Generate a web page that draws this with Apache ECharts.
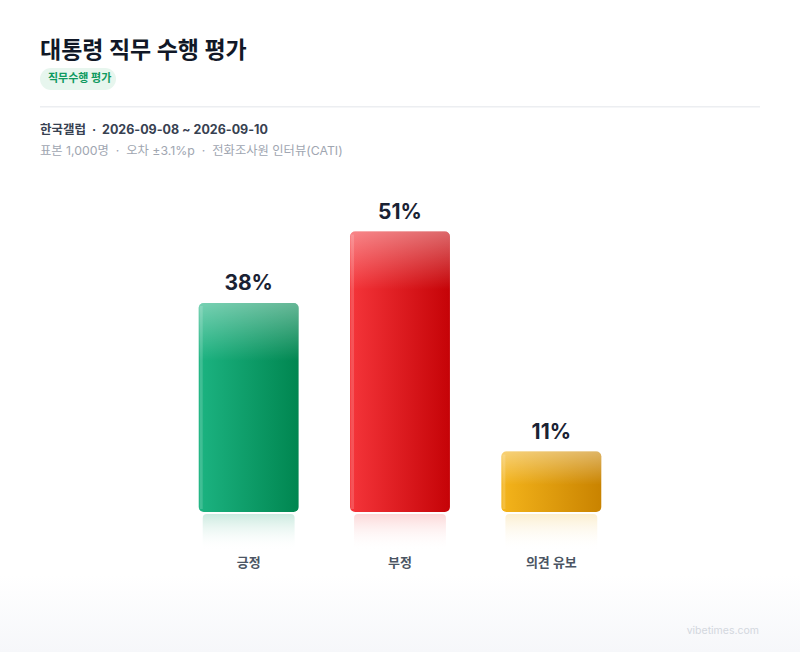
<!DOCTYPE html>
<html>
<head>
<meta charset="utf-8">
<script src="https://cdn.jsdelivr.net/npm/echarts@6/dist/echarts.min.js"></script>
<style>
html,body{margin:0;padding:0;background:#fff;}
#chart{width:800px;height:652px;}
</style>
</head>
<body>
<div id="chart"></div>
<script>
const categories = ['긍정', '부정', '의견 유보'];
const values = [38, 51, 11];
const valueLabels = ['38%', '51%', '11%'];

const palette = [
  { left: '#1cb381', right: '#008650', refl: 'rgba(16,160,110,0.22)' },
  { left: '#f5353a', right: '#c50307', refl: 'rgba(240,60,60,0.2)' },
  { left: '#f4b41b', right: '#c98300', refl: 'rgba(240,180,40,0.22)' }
];

const FONT = 'Inter, "Noto Sans CJK KR", "Noto Sans", sans-serif';

const chart = echarts.init(document.getElementById('chart'), null, { renderer: 'svg' });

const barData = values.map((v, i) => ({
  value: v,
  itemStyle: {
    color: new echarts.graphic.LinearGradient(0, 0, 1, 0, [
      { offset: 0, color: palette[i].left },
      { offset: 1, color: palette[i].right }
    ])
  },
  label: { formatter: valueLabels[i] }
}));

function renderOverlay(params, api) {
  const idx = api.value(0);
  const top = api.coord([idx, api.value(1)]);
  const base = api.coord([idx, 0]);
  const band = api.size([1, 0])[0];
  const w = band * 0.66;
  const x = top[0] - w / 2;
  const h = base[1] - top[1];
  const gh = Math.min(58, h * 0.55);
  return {
    type: 'group',
    children: [
      {
        type: 'rect',
        shape: { x: x, y: top[1], width: w, height: gh, r: [5, 5, 0, 0] },
        style: {
          fill: new echarts.graphic.LinearGradient(0, 0, 0, 1, [
            { offset: 0, color: 'rgba(255,255,255,0.4)' },
            { offset: 1, color: 'rgba(255,255,255,0)' }
          ])
        },
        silent: true
      },
      {
        type: 'rect',
        shape: { x: x + 1, y: top[1] + 3, width: 3, height: h - 6 },
        style: { fill: 'rgba(255,255,255,0.16)' },
        silent: true
      },
      {
        type: 'rect',
        shape: { x: x + 4, y: base[1] + 2, width: w - 8, height: 37, r: 4 },
        style: {
          fill: new echarts.graphic.LinearGradient(0, 0, 0, 1, [
            { offset: 0, color: palette[idx].refl },
            { offset: 1, color: 'rgba(255,255,255,0)' }
          ])
        },
        silent: true
      }
    ]
  };
}

const option = {
  backgroundColor: '#ffffff',
  animation: false,
  grid: { left: 173, right: 173, top: 182, bottom: 140 },
  xAxis: {
    type: 'category',
    data: categories,
    axisLine: { show: false },
    axisTick: { show: false },
    axisLabel: {
      margin: 43,
      fontSize: 13,
      fontWeight: 'bold',
      color: '#4b5563',
      fontFamily: FONT
    }
  },
  yAxis: {
    type: 'value',
    min: 0,
    max: 60,
    show: false,
    splitLine: { show: false }
  },
  graphic: [
    {
      type: 'rect', left: 0, top: 575, silent: true, z: -10,
      shape: { width: 800, height: 77 },
      style: {
        fill: new echarts.graphic.LinearGradient(0, 0, 0, 1, [
          { offset: 0, color: '#ffffff' },
          { offset: 1, color: '#f6f7fa' }
        ])
      }
    },
    {
      type: 'text', left: 40, top: 38,
      style: { text: '대통령 직무 수행 평가', font: 'bold 23px ' + FONT, fill: '#111827' }
    },
    {
      type: 'rect', left: 40, top: 68,
      shape: { width: 76, height: 22, r: 11 },
      style: { fill: '#e7f6ee' }
    },
    {
      type: 'text', left: 48, top: 72,
      style: { text: '직무수행 평가', font: 'bold 11px ' + FONT, fill: '#0e9a5f' }
    },
    {
      type: 'rect', left: 40, top: 106,
      shape: { width: 720, height: 1.5 },
      style: { fill: '#eceef1' }
    },
    {
      type: 'text', left: 40, top: 123,
      style: { text: '한국갤럽  ·  2026-09-08 ~ 2026-09-10', font: 'bold 12.5px ' + FONT, fill: '#374151' }
    },
    {
      type: 'text', left: 40, top: 144,
      style: { text: '표본 1,000명  ·  오차 ±3.1%p  ·  전화조사원 인터뷰(CATI)', font: '12.3px ' + FONT, fill: '#a0a6b1' }
    },
    {
      type: 'text', right: 41, top: 625,
      style: { text: 'vibetimes.com', font: '10.5px ' + FONT, fill: '#d3d7de' }
    }
  ],
  series: [
    {
      type: 'bar',
      data: barData,
      barWidth: '66%',
      itemStyle: { borderRadius: 5 },
      label: {
        show: true,
        position: 'top',
        distance: 10,
        fontSize: 21,
        fontWeight: 'bold',
        color: '#1a2233',
        fontFamily: FONT
      },
      z: 2
    },
    {
      type: 'custom',
      renderItem: renderOverlay,
      data: values.map((v, i) => [i, v]),
      z: 3,
      silent: true
    }
  ]
};

chart.setOption(option);
</script>
</body>
</html>
